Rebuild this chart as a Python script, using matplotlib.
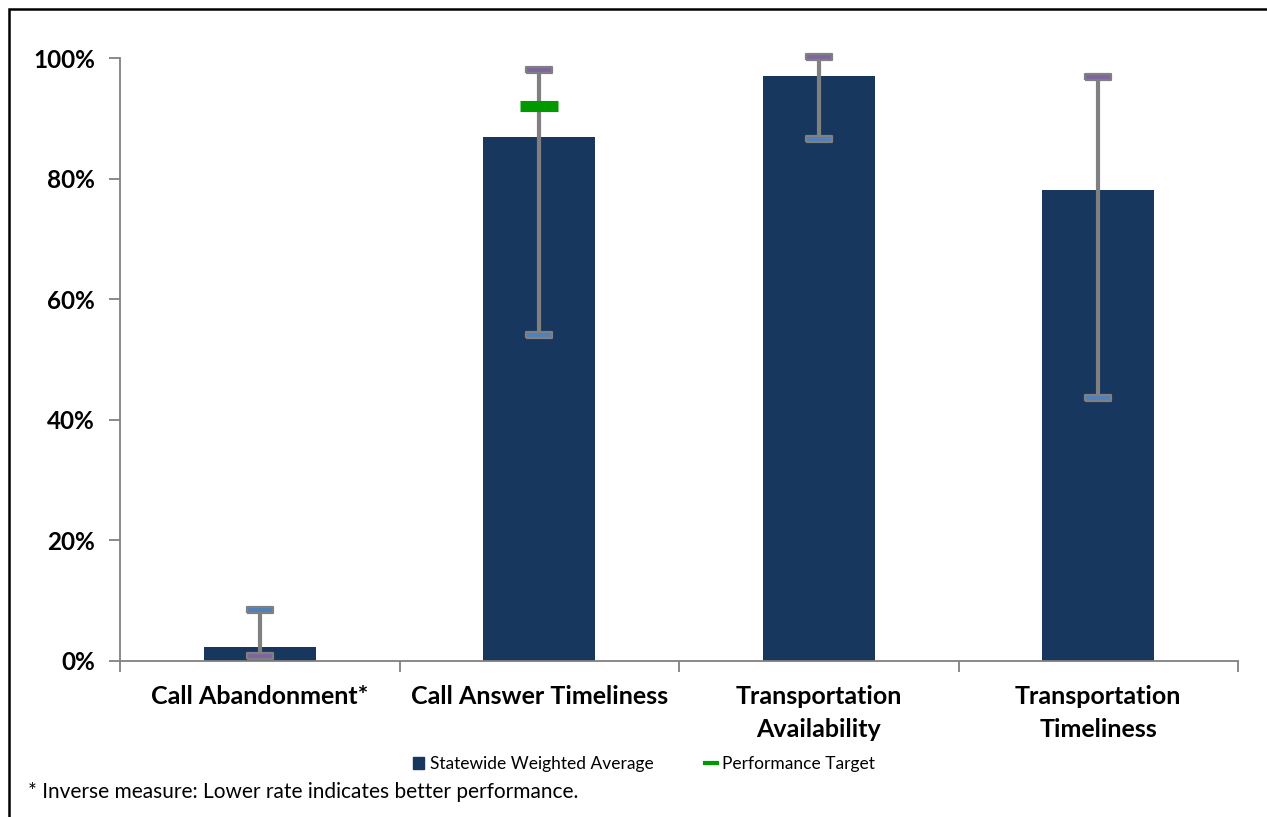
import numpy as np
import matplotlib.pyplot as plt
from matplotlib.patches import Patch, Rectangle
from matplotlib.lines import Line2D

plt.rcParams['font.family'] = ['Lato', 'DejaVu Sans']

categories = ['Call Abandonment*', 'Call Answer Timeliness',
              'Transportation\nAvailability', 'Transportation\nTimeliness']
weighted_avg = [0.023, 0.869, 0.970, 0.781]
range_min = [0.008, 0.541, 0.866, 0.436]
range_max = [0.085, 0.980, 1.001, 0.968]
targets = [np.nan, 0.920, np.nan, np.nan]
inverse = [True, False, False, False]  # lower is better

navy = '#17375E'
gray = '#808080'
green = '#009900'
best_col = '#8064A2'
worst_col = '#4F81BD'

fig = plt.figure(figsize=(12.67, 8.17), dpi=100)
ax = fig.add_axes([120 / 1267, 1 - 661 / 817, 1118 / 1267, 603 / 817])

x = np.arange(len(categories))
ax.bar(x, weighted_avg, width=0.4, color=navy, zorder=2)

# min/max whiskers
ax.vlines(x, range_min, range_max, color=gray, linewidth=3, zorder=3, clip_on=False)
cap = [(-1, -0.24), (1, -0.24), (1, 0.24), (-1, 0.24), (-1, -0.24)]
for i in range(len(categories)):
    top_col = worst_col if inverse[i] else best_col
    bot_col = best_col if inverse[i] else worst_col
    ax.plot(x[i], range_max[i], linestyle='none', marker=cap, markersize=19,
            markerfacecolor=top_col, markeredgecolor=gray, markeredgewidth=1.6,
            zorder=4, clip_on=False)
    ax.plot(x[i], range_min[i], linestyle='none', marker=cap, markersize=19,
            markerfacecolor=bot_col, markeredgecolor=gray, markeredgewidth=1.6,
            zorder=4, clip_on=False)

# performance target
ax.plot(x, targets, linestyle='none', marker='_', markersize=28,
        markeredgewidth=8, color=green, zorder=3.5, clip_on=False)

ax.set_xlim(-0.5, len(categories) - 0.5)
ax.set_ylim(0, 1)
ax.set_yticks([0, 0.2, 0.4, 0.6, 0.8, 1.0])
ax.set_yticklabels(['0%', '20%', '40%', '60%', '80%', '100%'],
                   fontsize=17.5, fontweight='bold')
ax.set_xticks(x)
ax.set_xticklabels(categories, fontsize=18, fontweight='bold', linespacing=1.5)
ax.set_xticks(np.arange(-0.5, len(categories)), minor=True)
ax.tick_params(axis='x', which='major', length=0, pad=17.5)
ax.tick_params(axis='x', which='minor', length=8, color=gray, width=1.3)
ax.tick_params(axis='y', length=8, color=gray, width=1.3, pad=10)

for side in ['top', 'right']:
    ax.spines[side].set_visible(False)
ax.spines['left'].set_color(gray)
ax.spines['bottom'].set_color(gray)
ax.spines['left'].set_linewidth(1.3)
ax.spines['bottom'].set_linewidth(1.3)

handles = [Patch(facecolor=navy, edgecolor=navy),
           Line2D([0], [0], color=green, linewidth=3)]
fig.legend(handles, ['Statewide Weighted Average', 'Performance Target'],
           loc='center', bbox_to_anchor=(644 / 1267, 1 - 764 / 817), ncol=2,
           frameon=False, fontsize=12.5, handlelength=0.65, handletextpad=0.3,
           columnspacing=3.0, handleheight=0.65)

fig.text(28 / 1267, 1 - 792 / 817,
         '* Inverse measure: Lower rate indicates better performance.',
         fontsize=15, va='center', ha='left')

fig.add_artist(Rectangle((8.5 / 1267, -0.05), 1.2, 1.05 - 8.5 / 817,
                         transform=fig.transFigure, fill=False,
                         edgecolor='black', linewidth=1.8))

fig.savefig('out.png', dpi=100)
